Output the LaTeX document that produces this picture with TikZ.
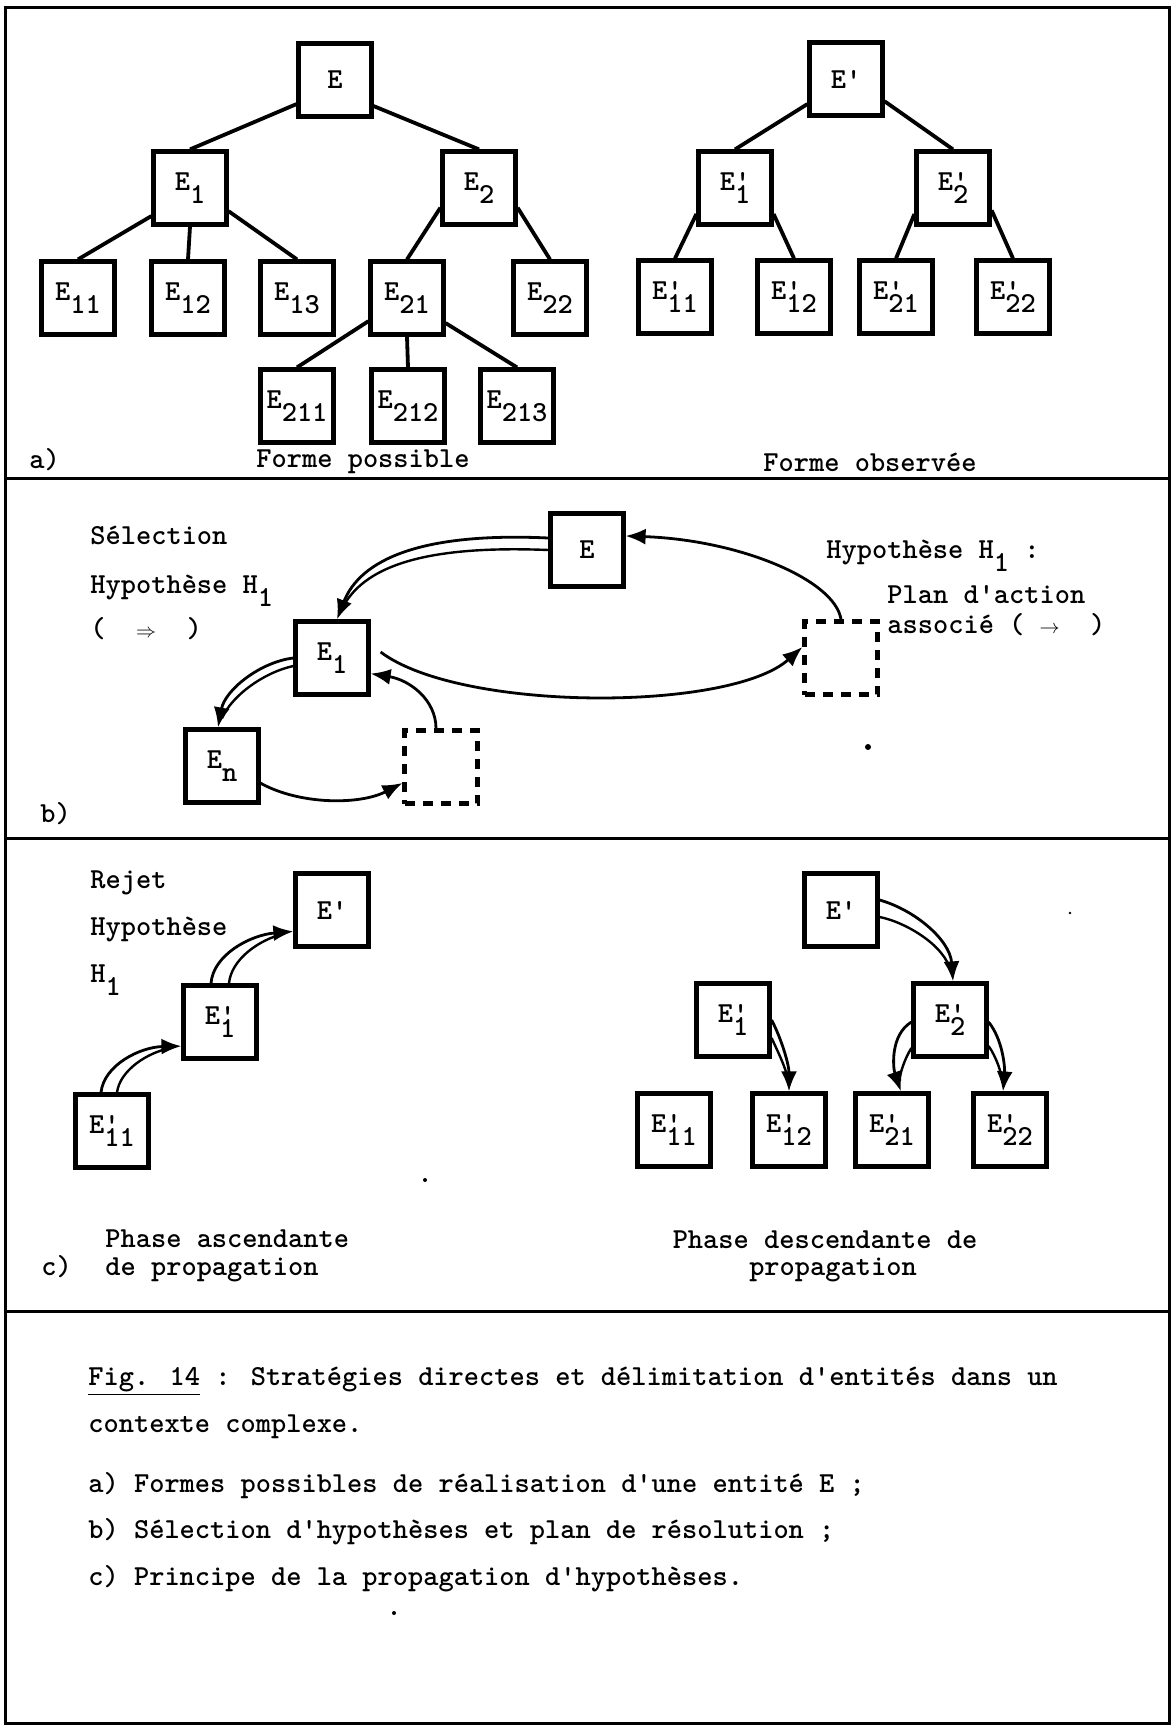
\documentclass[tikz,border=0pt]{standalone}
\usepackage{tikz}
\usetikzlibrary{arrows.meta}
\newcommand{\Es}[1]{E\raisebox{-.45em}{#1}}
\newcommand{\Ep}[1]{E\rlap{\textquotesingle}\raisebox{-.45em}{#1}}

\begin{document}
\begin{tikzpicture}[
        x=0.5pt,y=-0.5pt,
        every node/.style={font=\fontsize{14.5}{17}\selectfont\ttfamily\bfseries},
        ent/.style={draw,line width=2.1pt,minimum width=36.5pt,minimum height=36.5pt,inner sep=0pt},
        hyp/.style={ent,dash pattern=on 5pt off 4pt},
        link/.style={line width=1.9pt},
        arr/.style={line width=1.4pt,-{Latex[length=10pt,width=8pt]}},
        dbl/.style={line width=1.2pt,shorten >=5pt},
        lbl/.style={anchor=west,inner sep=0pt,text height=1.6ex,text depth=.4ex},
        frame/.style={line width=1.5pt}
      ]
      \useasboundingbox (0,0) rectangle (1176,1725);
      \draw[frame] (5,7) rectangle (1169,1723);
      \draw[frame] (5,478) -- (1169,478);
      \draw[frame] (5,838) -- (1169,838);
      \draw[frame] (5,1311) -- (1169,1311);

      % a) forme possible
      \node[ent] (e) at (335,80) {E};
      \node[ent] (e1) at (190,188) {\Es{1}};
      \node[ent] (e2) at (479,188) {\Es{2}};
      \node[ent] (e11) at (78,298) {\Es{11}};
      \node[ent] (e12) at (188,298) {\Es{12}};
      \node[ent] (e13) at (297,298) {\Es{13}};
      \node[ent] (e21) at (407,298) {\Es{21}};
      \node[ent] (e22) at (550,298) {\Es{22}};
      \node[ent] (e211) at (297,406) {\Es{211}};
      \node[ent] (e212) at (408,406) {\Es{212}};
      \node[ent] (e213) at (517,406) {\Es{213}};

      \draw[link] (e.212) -- (e1.north);
      \draw[link] (e.326) -- (e2.north);
      \draw[link] (e1.216) -- (e11.north);
      \draw[link] (e1.south) -- (e12.north);
      \draw[link] (e1.329) -- (e13.north);
      \draw[link] (e2.207) -- (e21.north);
      \draw[link] (e2.333) -- (e22.north);
      \draw[link] (e21.211) -- (e211.north);
      \draw[link] (e21.south) -- (e212.north);
      \draw[link] (e21.327) -- (e213.north);

      % a) forme observee
      \node[ent] (ep) at (846,79) {E\textquotesingle};
      \node[ent] (ep1) at (735,188) {\Ep{1}};
      \node[ent] (ep2) at (953,188) {\Ep{2}};
      \node[ent] (ep11) at (675,297) {\Ep{11}};
      \node[ent] (ep12) at (794,297) {\Ep{12}};
      \node[ent] (ep21) at (896,297) {\Ep{21}};
      \node[ent] (ep22) at (1013,297) {\Ep{22}};

      \draw[link] (ep.213) -- (ep1.north);
      \draw[link] (ep.330) -- (ep2.north);
      \draw[link] (ep1.214) -- (ep11.north);
      \draw[link] (ep1.326) -- (ep12.north);
      \draw[link] (ep2.214) -- (ep21.north);
      \draw[link] (ep2.330) -- (ep22.north);

      \node[lbl] (la) at (29,463) {a)};
      \node (fposs) at (363,462) {Forme possible};
      \node (fobs) at (870,462) {Forme observée};

      % b) selection et plan d'action
      \node[ent] (bE) at (587,550) {E};
      \node[ent] (bE1) at (332,658) {\Es{1}};
      \node[ent] (bEn) at (222,766) {\Es{n}};
      \node[hyp] (bh1) at (441,767) {};
      \node[hyp] (bh2) at (841,658) {};

      \draw[arr] ([yshift=6pt]bE.west) .. controls (420,532) and (360,560) .. ([xshift=2.5pt]bE1.north);
      \draw[dbl] (bE.west) .. controls (425,545) and (362,566) .. ([xshift=2.5pt]bE1.north);
      \draw[arr] (bE1.west) .. controls (260,662) and (225,690) .. ([xshift=-2pt]bEn.north);
      \draw[dbl] ([yshift=-4pt]bE1.west) .. controls (265,672) and (232,695) .. ([xshift=-2pt]bEn.north);
      \draw[arr] (bEn.336) .. controls (300,805) and (360,805) .. ([yshift=-8pt]bh1.west);
      \draw[arr] ([xshift=-2.5pt]bh1.north) .. controls (436,700) and (410,680) .. (bE1.-22);
      \draw[arr] ([xshift=5pt,yshift=3pt]bE1.east) .. controls (460,712) and (730,712) .. ([yshift=5.5pt]bh2.west);
      \draw[arr] (bh2.north) .. controls (835,580) and (740,540) .. (bE.20);

      \node[lbl] (sel) at (90,539) {Sélection};
      \node[lbl] (hypa) at (90,588) {Hypothèse H\raisebox{-.45em}{1}};
      \node[lbl] (dblk) at (90,632) {(\ \ $\scriptstyle\Rightarrow$\ \ )};
      \node[lbl] (hypb) at (826,553) {Hypothèse H\raisebox{-.45em}{1} :};
      \node[lbl] (plan) at (887,598) {Plan d'action};
      \node[lbl] (assoc) at (887,628) {associé (\ $\scriptstyle\rightarrow$\ \ )};
      \node[lbl] (lb) at (40,817) {b)};
      \fill (868,747) circle (1.5pt);

      % c) propagation
      \node[ent] (ce) at (332,910) {E\textquotesingle};
      \node[ent] (ce1) at (220,1022) {\Ep{1}};
      \node[ent] (ce11) at (112,1131) {\Ep{11}};

      \draw[arr] ([xshift=-5.5pt]ce11.north) .. controls (104,1065) and (140,1047) .. (ce1.212);
      \draw[dbl] ([xshift=2.5pt]ce11.north) .. controls (120,1070) and (148,1052) .. (ce1.212);
      \draw[arr] ([xshift=-4.5pt]ce1.north) .. controls (213,955) and (250,935) .. (ce.209);
      \draw[dbl] ([xshift=4.5pt]ce1.north) .. controls (231,960) and (258,940) .. (ce.209);

      \node[ent] (cf) at (841,910) {E\textquotesingle};
      \node[ent] (cf1) at (733,1020) {\Ep{1}};
      \node[ent] (cf2) at (950,1020) {\Ep{2}};
      \node[ent] (cf11) at (674,1130) {\Ep{11}};
      \node[ent] (cf12) at (789,1130) {\Ep{12}};
      \node[ent] (cf21) at (892,1130) {\Ep{21}};
      \node[ent] (cf22) at (1010,1130) {\Ep{22}};

      \draw[arr] ([yshift=5pt]cf.east) .. controls (915,910) and (950,940) .. ([xshift=1.5pt]cf2.north);
      \draw[dbl] ([yshift=-3.5pt]cf.east) .. controls (905,922) and (945,945) .. ([xshift=1.5pt]cf2.north);
      \draw[arr] (cf1.east) .. controls (782,1040) and (789,1065) .. (cf12.north);
      \draw[dbl] ([yshift=-9pt]cf1.east) .. controls (778,1052) and (787,1070) .. (cf12.north);
      \draw[arr] ([yshift=-1pt]cf2.west) .. controls (890,1035) and (893,1068) .. ([xshift=4.5pt]cf21.north);
      \draw[dbl] ([yshift=-14pt]cf2.west) .. controls (905,1058) and (899,1075) .. ([xshift=4.5pt]cf21.north);
      \draw[arr] ([yshift=-1pt]cf2.east) .. controls (1003,1040) and (1005,1068) .. ([xshift=-3.5pt]cf22.north);
      \draw[dbl] ([yshift=-13pt]cf2.east) .. controls (997,1058) and (1002,1075) .. ([xshift=-3.5pt]cf22.north);

      \node[lbl] (rej) at (90,883) {Rejet};
      \node[lbl] (hypc) at (90,930) {Hypothèse};
      \node[lbl] (hc) at (90,977) {H\raisebox{-.45em}{1}};
      \node[lbl] (asc) at (105,1242) {Phase ascendante};
      \node[lbl] (lc) at (41,1270) {c)};
      \node[lbl] (asc2) at (105,1270) {de propagation};
      \node (desc) at (825,1240) {Phase descendante de};
      \node (desc2) at (833,1270) {propagation};
      \fill (425,1180) circle (1pt);
      \fill (1070,913) circle (0.7pt);

      % legende
      \node[lbl] (cap1) at (88,1380) {\underline{Fig. 14} : Stratégies directes et délimitation d'entités dans un};
      \node[lbl] (cap2) at (88,1427) {contexte complexe.};
      \node[lbl] (capa) at (88,1487) {a) Formes possibles de réalisation d'une entité E ;};
      \node[lbl] (capb) at (88,1533) {b) Sélection d'hypothèses et plan de résolution ;};
      \node[lbl] (capc) at (88,1580) {c) Principe de la propagation d'hypothèses.};
      \fill (394,1613) circle (1pt);
    \end{tikzpicture}
\end{document}
